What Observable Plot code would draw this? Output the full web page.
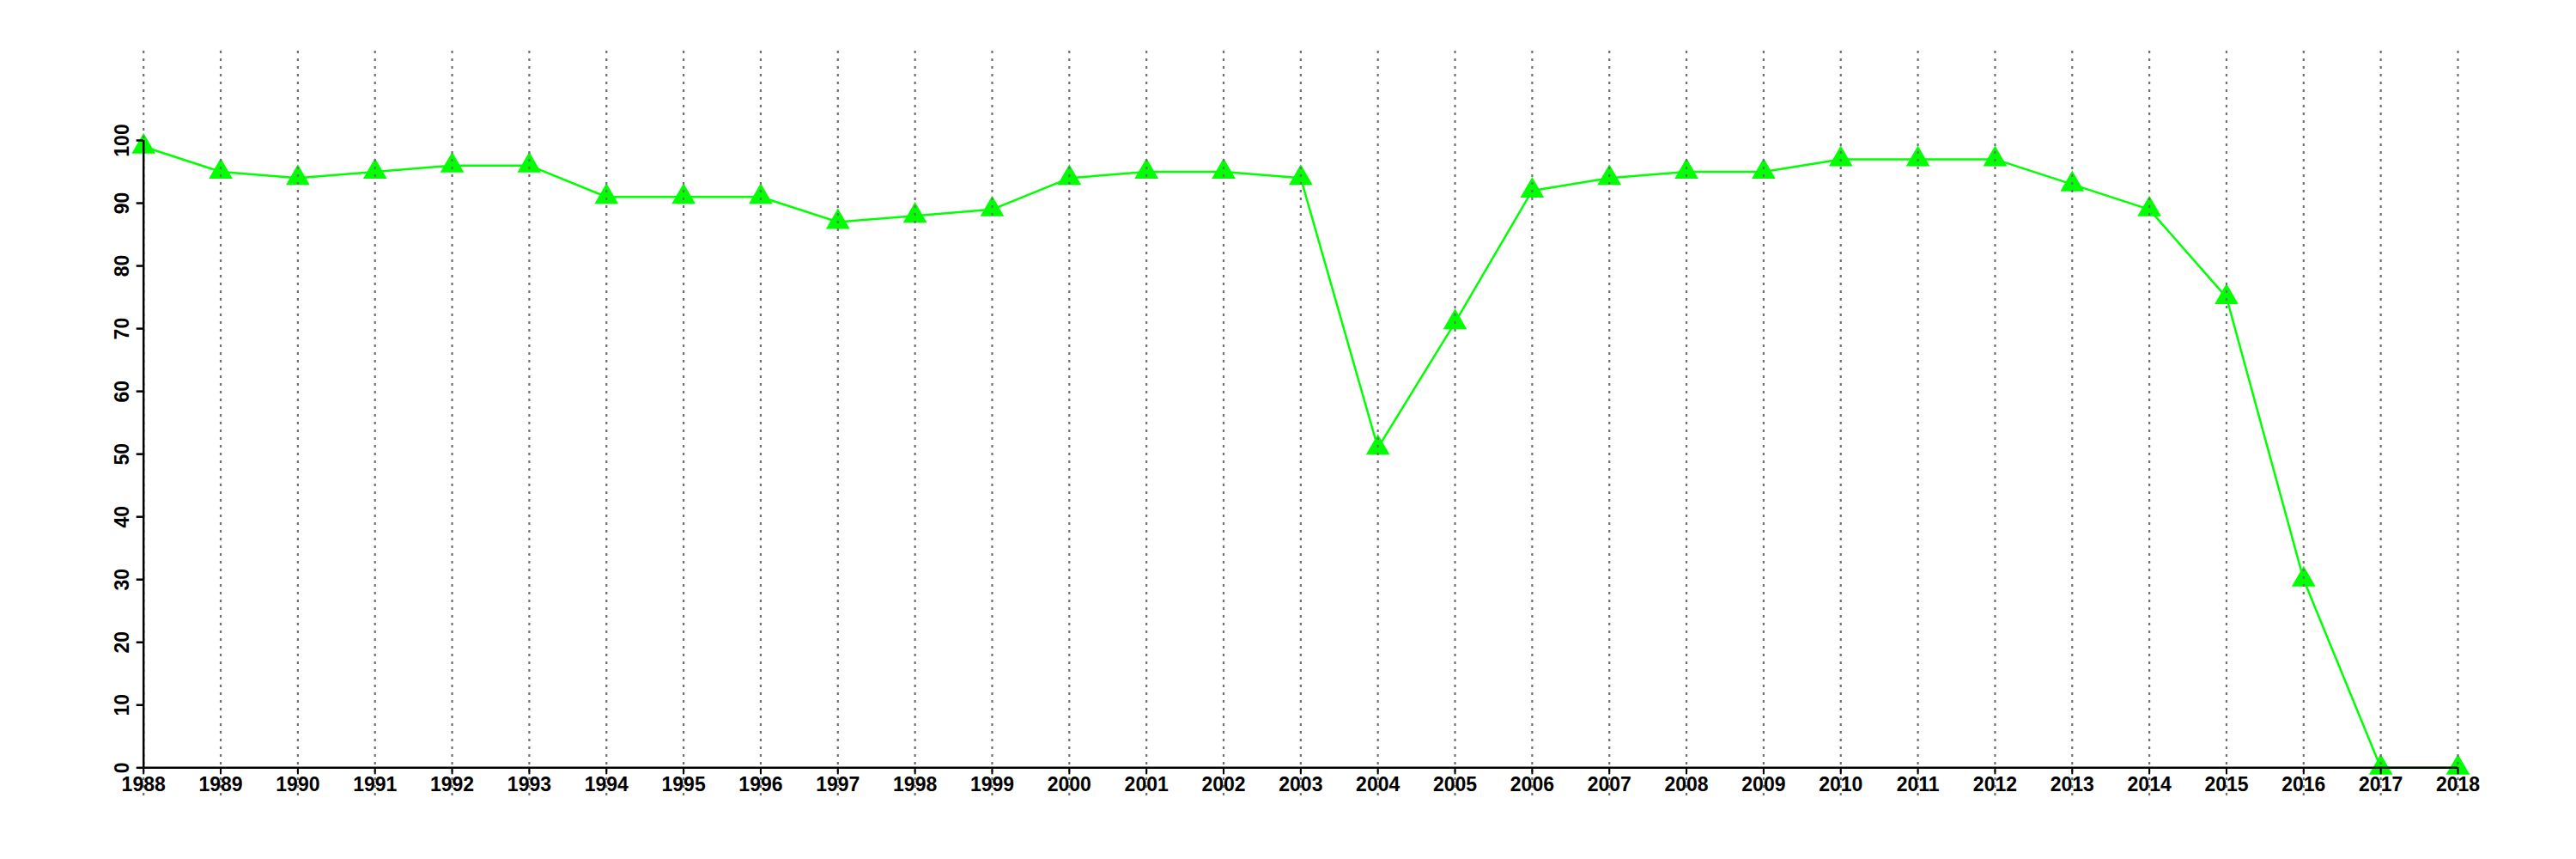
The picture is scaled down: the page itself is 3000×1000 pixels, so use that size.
<!DOCTYPE html>
<html>
<head>
<meta charset="utf-8">
<script src="https://cdn.jsdelivr.net/npm/d3@7"></script>
<script src="https://cdn.jsdelivr.net/npm/@observablehq/plot@0.6"></script>
<style>
  html, body { margin: 0; padding: 0; background: #fff; }
  #chart svg { display: block; }
</style>
</head>
<body>
<div id="chart"></div>
<script>
const years = [1988,1989,1990,1991,1992,1993,1994,1995,1996,1997,1998,1999,2000,2001,2002,2003,2004,2005,2006,2007,2008,2009,2010,2011,2012,2013,2014,2015,2016,2017,2018];
const values = [99,95,94,95,96,96,91,91,91,87,88,89,94,95,95,94,51,71,92,94,95,95,97,97,97,93,89,75,30,0,0];
const yTicks = [0,10,20,30,40,50,60,70,80,90,100];

const data = years.map((year, i) => ({year, value: values[i]}));

// layout (pixels)
const W = 3000, H = 1000;
const mLeft = 166.7, mRight = 138, mTop = 59, mBottom = 73;
const y0px = 893.3, y100px = 163;
const pxPerUnit = (y0px - y100px) / 100;
const yLo = -((H - mBottom) - y0px) / pxPerUnit;
const yHi = 100 + (y100px - mTop) / pxPerUnit;

const font = "'Liberation Sans', Arial, Helvetica, sans-serif";

const chart = Plot.plot({
  width: W,
  height: H,
  marginLeft: mLeft,
  marginRight: mRight,
  marginTop: mTop,
  marginBottom: mBottom,
  style: { fontFamily: font, background: "#fff", color: "#000" },
  x: { type: "linear", domain: [years[0], years[years.length - 1]], axis: null, label: null },
  y: { type: "linear", domain: [yLo, yHi], axis: null, label: null },
  marks: [
    Plot.line(data, { x: "year", y: "value", stroke: "#00ff00", strokeWidth: 2.5 }),
    Plot.dot(data, { x: "year", y: "value", symbol: "triangle", r: 10.3, fill: "#00ff00", stroke: "none" }),
    Plot.ruleX(years, { x: d => d, stroke: "#707070", strokeWidth: 2.2, strokeDasharray: "3,6" }),
    Plot.ruleY([0], { x1: years[0], x2: years[years.length - 1], stroke: "#000", strokeWidth: 2.5 }),
    Plot.ruleX([years[0]], { y1: 0, y2: 100, stroke: "#000", strokeWidth: 2.5 }),
    Plot.axisX({ ticks: years, tickSize: 8, tickPadding: 3, tickFormat: d => String(d), label: null, fontSize: 23, fontWeight: "bold", strokeWidth: 2, anchor: "bottom", dy: -((H - mBottom) - y0px) }),
    Plot.axisY({ ticks: yTicks, tickSize: 8, tickFormat: () => "", label: null, strokeWidth: 2.5, anchor: "left" }),
    Plot.text(yTicks, { x: years[0], y: d => d, text: d => String(d), rotate: -90, dx: -25, textAnchor: "middle", lineAnchor: "middle", fontSize: 23, fontWeight: "bold", fill: "#000" })
  ]
});
document.getElementById("chart").appendChild(chart);
</script>
</body>
</html>
